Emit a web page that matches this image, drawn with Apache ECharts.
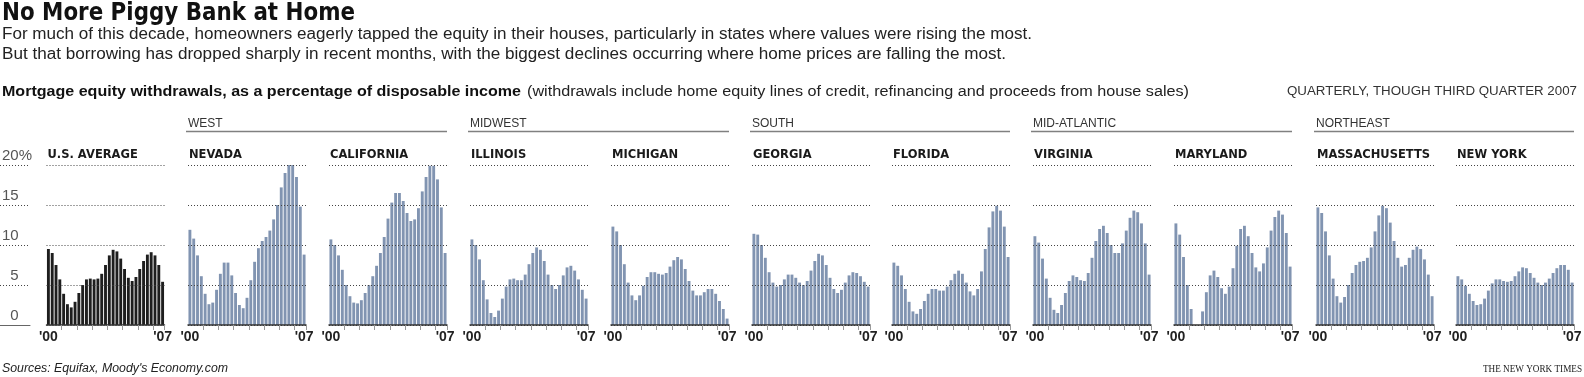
<!DOCTYPE html>
<html><head><meta charset="utf-8">
<script src="https://cdn.jsdelivr.net/npm/echarts@6/dist/echarts.min.js"></script>
<style>html,body{margin:0;padding:0;background:#fff;overflow:hidden}#c{width:1584px;height:377px}</style>
</head><body><div id="c"></div><script>
// ---------- DATA ----------
const quarters = ["2000Q1","2000Q2","2000Q3","2000Q4","2001Q1","2001Q2","2001Q3","2001Q4",
  "2002Q1","2002Q2","2002Q3","2002Q4","2003Q1","2003Q2","2003Q3","2003Q4",
  "2004Q1","2004Q2","2004Q3","2004Q4","2005Q1","2005Q2","2005Q3","2005Q4",
  "2006Q1","2006Q2","2006Q3","2006Q4","2007Q1","2007Q2","2007Q3"];
const usAverage    = [9.5,9.0,7.5,5.7,3.9,2.6,2.2,2.9,4.0,5.0,5.7,5.8,5.7,5.8,6.4,7.5,8.7,9.4,9.2,8.3,7.0,5.9,5.5,6.0,7.0,8.0,8.8,9.1,8.7,7.5,5.4];
const nevada       = [11.9,10.8,8.7,6.1,3.9,2.6,2.8,4.4,6.4,7.8,7.8,6.2,4.0,2.5,2.1,3.4,5.6,7.9,9.6,10.5,11.0,11.8,13.2,15.0,17.2,19.0,20.0,20.0,18.5,14.8,8.8];
const california   = [10.7,10.0,8.7,6.9,5.0,3.6,2.8,2.7,3.1,4.0,5.0,6.1,7.4,9.0,11.0,13.3,15.3,16.5,16.5,15.5,14.0,13.0,13.2,14.6,16.7,18.5,19.9,19.9,18.2,14.7,9.0];
const illinois     = [10.7,10.0,8.2,5.6,3.2,1.5,1.0,1.8,3.3,4.8,5.7,5.8,5.6,5.6,6.3,7.6,9.0,9.7,9.4,8.0,6.3,5.0,4.5,5.0,6.2,7.2,7.4,6.8,5.7,4.4,3.3];
const michigan     = [12.3,11.7,10.0,7.6,5.3,3.7,3.1,3.7,4.9,6.0,6.6,6.6,6.4,6.3,6.5,7.3,8.1,8.5,8.2,7.0,5.5,4.3,3.7,3.7,4.1,4.5,4.5,3.9,3.0,2.0,0.8];
const georgia      = [11.4,11.3,10.0,8.4,6.6,5.3,4.8,5.0,5.7,6.3,6.3,5.9,5.3,5.0,5.5,6.8,8.0,8.9,8.7,7.5,5.9,4.5,4.0,4.4,5.3,6.2,6.6,6.5,6.1,5.4,4.8];
const florida      = [7.8,7.4,6.2,4.5,2.9,1.7,1.4,2.0,3.0,3.9,4.5,4.5,4.3,4.3,4.8,5.6,6.4,6.8,6.4,5.3,4.2,3.7,4.5,6.7,9.5,12.2,14.2,14.9,14.3,12.3,8.5];
const virginia     = [11.1,10.3,8.3,5.8,3.4,1.9,1.5,2.5,4.0,5.5,6.2,6.0,5.6,5.5,6.5,8.4,10.5,12.0,12.4,11.5,10.0,9.0,9.0,10.2,11.8,13.4,14.3,14.1,12.7,10.2,6.3];
const maryland     = [12.7,11.3,8.5,5.0,2.0,0,0,1.7,4.1,6.2,6.8,6.0,4.6,3.9,4.8,7.1,9.9,12.0,12.4,11.1,9.0,7.2,6.7,7.7,9.7,11.8,13.5,14.3,13.8,11.5,7.3];
const massachusetts= [14.7,14.0,11.7,8.7,5.8,3.6,2.8,3.5,5.0,6.5,7.5,7.9,8.0,8.4,9.7,11.7,13.7,14.9,14.6,12.8,10.5,8.4,7.3,7.5,8.4,9.4,9.8,9.5,8.2,6.3,3.6];
const newYork      = [6.1,5.7,4.9,3.9,3.0,2.5,2.6,3.3,4.3,5.2,5.7,5.7,5.5,5.4,5.5,6.1,6.7,7.2,7.1,6.5,5.9,5.3,5.0,5.3,5.8,6.5,7.1,7.5,7.5,6.9,5.3];

const panelNames = ["U.S. AVERAGE","NEVADA","CALIFORNIA","ILLINOIS","MICHIGAN","GEORGIA","FLORIDA","VIRGINIA","MARYLAND","MASSACHUSETTS","NEW YORK"];
const panelData  = [usAverage,nevada,california,illinois,michigan,georgia,florida,virginia,maryland,massachusetts,newYork];
const regionNames = ["WEST","MIDWEST","SOUTH","MID-ATLANTIC","NORTHEAST"];
const regionPanels = [[1,2],[3,4],[5,6],[7,8],[9,10]];   // indices into panelNames
const yTicks = [0,5,10,15,20];
const yUnit = "%";
const xEndLabels = ["'00","'07"];

const titleText = "No More Piggy Bank at Home";
const introLines = [
  "For much of this decade, homeowners eagerly tapped the equity in their houses, particularly in states where values were rising the most.",
  "But that borrowing has dropped sharply in recent months, with the biggest declines occurring where home prices are falling the most."
];
const chartLabelBold = "Mortgage equity withdrawals, as a percentage of disposable income";
const chartLabelNote = "(withdrawals include home equity lines of credit, refinancing and proceeds from house sales)";
const periodNote = "QUARTERLY, THOUGH THIRD QUARTER 2007";
const sourceText = "Sources: Equifax, Moody's Economy.com";
const creditText = "THE NEW YORK TIMES";

// ---------- LAYOUT ----------
const panelLeft = [46.5,188,329,470,611,752,892,1033,1174,1316,1456];
const panelW = 118, plotTop = 165, plotH = 160;
const FONT = '"Liberation Sans", Arial, sans-serif';
const HEAVY = '"DejaVu Sans", "Liberation Sans", sans-serif';

const mctx = document.createElement('canvas').getContext('2d');
function measure(text, font){ mctx.font = font; return mctx.measureText(text).width; }
function fitText(text, x, y, size, weight, targetW, opts){
  opts = opts || {};
  const style = opts.italic ? 'italic ' : '';
  const fam = opts.family || FONT;
  const font = `${style}${weight} ${size}px ${fam}`;
  const w = measure(text, font);
  return {
    type:'text', x:x, y:y, scaleX: targetW / w, silent:true,
    style:{ text:text, font:font, fill: opts.fill || '#111',
      textAlign: opts.align || 'left', textVerticalAlign:'middle' }
  };
}

const grids = [], xAxes = [], yAxes = [], series = [], graphics = [];

// y-label grid on far left
const yMax = yTicks[yTicks.length-1];
grids.push({left:0, top:plotTop, width:30, height:plotH, outerBoundsMode:'none'});
xAxes.push({gridIndex:0, type:'category', data:[''], axisTick:{show:false}, axisLabel:{show:false},
  axisLine:{lineStyle:{color:'#666', width:1}}});
yAxes.push({gridIndex:0, type:'value', min:yTicks[0], max:yMax, interval:yTicks[1]-yTicks[0],
  axisLine:{show:false}, axisTick:{show:false},
  splitLine:{lineStyle:{type:[1,2], color:'#444', width:1}},
  axisLabel:{inside:true, margin:32, align:'right', verticalAlign:'bottom', padding:[0,0,2,0],
    formatter:(v)=> v===yMax ? `{v|${v}}{p|${yUnit}}` : `{v|${v}}{q|${yUnit}}`,
    rich:{ v:{fontSize:15, fontFamily:FONT, color:'#555'},
           p:{fontSize:15, fontFamily:FONT, color:'#555'},
           q:{fontSize:15, fontFamily:FONT, color:'rgba(0,0,0,0)'} }
  }});

panelData.forEach((d,i)=>{
  const gi = i+1;
  grids.push({left:panelLeft[i], top:plotTop, width:panelW, height:plotH, outerBoundsMode:'none'});
  xAxes.push({gridIndex:gi, type:'category', data:quarters, z:4,
    axisLine:{lineStyle:{color:'#333', width:1.5}},
    axisTick:{show:true, length:5, interval:(idx)=> idx%4===0 && idx>0, lineStyle:{color:'#999', width:1}},
    axisLabel:{interval:(idx)=> idx===0 || idx===quarters.length-1, margin:5, hideOverlap:false,
      formatter:(v,idx)=> idx===0 ? xEndLabels[0] : xEndLabels[1],
      fontSize:14, fontWeight:'bold', fontFamily:FONT, color:'#222'}
  });
  yAxes.push({gridIndex:gi, type:'value', min:yTicks[0], max:yMax, interval:yTicks[1]-yTicks[0], z:3,
    axisLine:{show:false}, axisTick:{show:false}, axisLabel:{show:false},
    splitLine:{lineStyle:{type:[1,2], color:'#444', width:1}}
  });
  series.push({type:'bar', xAxisIndex:gi, yAxisIndex:gi, data:d, silent:true,
    barCategoryGap:'24%', itemStyle:{color: i===0 ? '#1e1e1e' : '#8194b1'}});
  graphics.push({type:'text', x:panelLeft[i]+1, y:155, scaleX:0.92, silent:true,
    style:{text:panelNames[i], font:`bold 12.5px ${HEAVY}`, fill:'#1a1a1a', textVerticalAlign:'middle'}});
});

regionNames.forEach((r,k)=>{
  const a = regionPanels[k][0], b = regionPanels[k][1];
  graphics.push({type:'text', x:panelLeft[a], y:124, silent:true,
    style:{text:r, font:`12px ${FONT}`, fill:'#333', textVerticalAlign:'middle'}});
  graphics.push({type:'line', silent:true, shape:{x1:panelLeft[a]-2, y1:131.5, x2:panelLeft[b]+panelW, y2:131.5},
    style:{stroke:'#808080', lineWidth:1.5}});
});

graphics.push(fitText(titleText, 2, 13, 25, 'bold', 353, {family:HEAVY}));
graphics.push(fitText(introLines[0], 2, 35, 16, 'normal', 1030, {fill:'#222'}));
graphics.push(fitText(introLines[1], 2, 55, 16, 'normal', 1004, {fill:'#222'}));
graphics.push(fitText(chartLabelBold, 2, 92, 14, 'bold', 519, {fill:'#111'}));
graphics.push(fitText(chartLabelNote, 527, 92, 14, 'normal', 662, {fill:'#222'}));
graphics.push(fitText(periodNote, 1577, 92, 12, 'normal', 290, {fill:'#333', align:'right'}));
graphics.push(fitText(sourceText, 2, 369, 12, 'normal', 226, {fill:'#222', italic:true}));
graphics.push(fitText(creditText, 1582, 369, 10, 'normal', 99, {fill:'#222', align:'right', family:'"Liberation Serif", serif'}));

const chart = echarts.init(document.getElementById('c'), null, {renderer:'canvas'});
chart.setOption({
  animation:false, backgroundColor:'#fff',
  grid:grids, xAxis:xAxes, yAxis:yAxes, series:series, graphic:graphics
});
</script></body></html>
